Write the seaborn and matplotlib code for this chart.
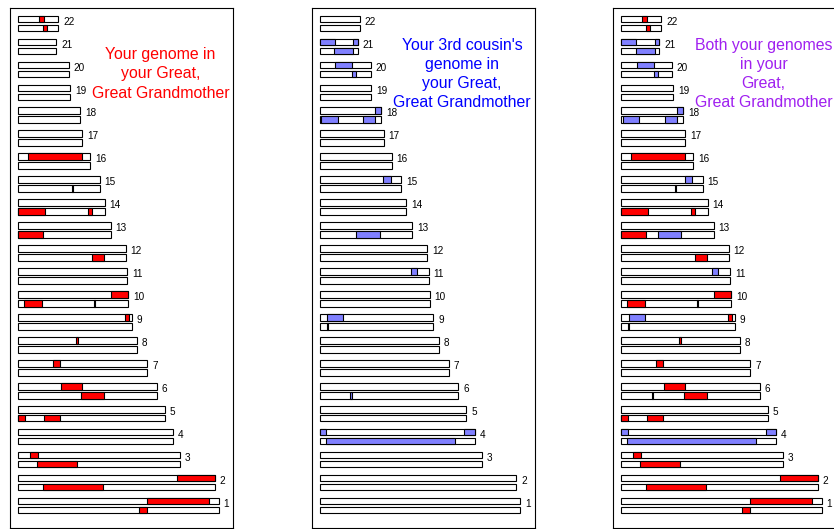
import matplotlib
matplotlib.use("Agg")
import matplotlib.pyplot as plt
import pandas as pd
import seaborn as sns

# Chromosome numbers and physical lengths (Mb)
chromosomes = list(range(1, 23))
chrom_length_mb = [249.0, 244.3, 200.9, 192.5, 182.2, 171.9, 160.2, 147.5, 140.9, 136.3,
                   135.4, 133.4, 114.8, 107.3, 101.1, 89.4, 79.5, 76.6, 64.2, 63.0, 47.2, 49.7]

# Segments of your genome that came from the great, great grandmother
# homolog 0 = upper copy, 1 = lower copy; start / end in Mb
your_chrom = [22, 22, 16, 15, 14, 14, 13, 12, 10, 10, 10, 9, 8, 7, 6, 6, 5, 5, 3, 3, 2, 2, 1, 1]
your_homolog = [0, 1, 0, 1, 1, 1, 1, 1, 0, 1, 1, 0, 0, 0, 0, 1, 1, 1, 0, 1, 0, 1, 0, 1]
your_start = [26.1, 31.1, 12.4, 67.0, 0.0, 87.0, 0.0, 92.0, 115.2, 7.5, 93.5, 132.5, 72.0,
              42.7, 53.4, 78.3, 0.0, 32.3, 14.5, 23.6, 196.7, 30.3, 159.5, 150.3]
your_end = [31.6, 36.0, 79.5, 68.5, 33.5, 92.0, 31.0, 106.0, 136.3, 29.0, 95.2, 137.5, 73.6,
            52.2, 78.8, 106.5, 7.9, 52.2, 24.1, 72.9, 244.3, 104.8, 236.9, 159.9]

# Segments of your 3rd cousin's genome from the same ancestor
cousin_chrom = [21, 21, 21, 20, 20, 18, 18, 18, 15, 13, 11, 9, 9, 6, 4, 4, 4]
cousin_homolog = [0, 0, 1, 0, 1, 0, 1, 1, 0, 1, 0, 0, 1, 1, 0, 0, 1]
cousin_start = [0.0, 41.4, 18.1, 19.4, 40.1, 69.1, 2.0, 54.2, 79.0, 45.5, 113.0, 9.1, 8.5,
                38.0, 0.0, 179.6, 7.5]
cousin_end = [18.6, 47.2, 41.4, 40.1, 45.1, 76.6, 22.4, 69.1, 88.2, 74.5, 120.5, 28.9, 9.7,
              39.5, 7.8, 192.5, 167.7]

panel_titles = ["Your genome in\nyour Great,\nGreat Grandmother",
                "Your 3rd cousin's\ngenome in\nyour Great,\nGreat Grandmother",
                "Both your genomes\nin your\nGreat,\nGreat Grandmother"]
title_colors = ["#FF0000", "#0000FF", "#A020F0"]
your_color = "#FF0000"
cousin_color = "#8080FF"

sns.set_theme(style="white")
plt.rcParams["font.family"] = ["Liberation Sans", "DejaVu Sans"]

W, H = 834, 529
fig = plt.figure(figsize=(W / 100, H / 100), dpi=100)
fig.patch.set_facecolor("white")

panel_left_px = [10, 311.5, 613]
panel_w_px = 223
top_px, bottom_px = 7.7, 527.7

order = [str(c) for c in chromosomes[::-1]]
base = pd.DataFrame({
    "chrom": [str(c) for c in chromosomes] * 2,
    "homolog": ["A"] * 22 + ["B"] * 22,
    "length": chrom_length_mb * 2,
})

DODGE = 0.196
BAR_H = 0.288


def row_of(c):
    return 22 - c


def segments(chrom, homolog, start, end, color):
    return [(c, h, s, e, color) for c, h, s, e in zip(chrom, homolog, start, end)]


mine = segments(your_chrom, your_homolog, your_start, your_end, your_color)
cousin = segments(cousin_chrom, cousin_homolog, cousin_start, cousin_end, cousin_color)
panel_segments = [mine, cousin, cousin + mine]


def draw_panel(ax, segs, title, title_color):
    sns.barplot(data=base, y="chrom", x="length", hue="homolog", order=order,
                hue_order=["A", "B"], orient="h", palette=["white", "white"],
                saturation=1, width=0.784, gap=0.265, dodge=True,
                edgecolor="black", linewidth=0.8, errorbar=None, legend=False, ax=ax)
    for chrom, hom, start, end, color in segs:
        y = row_of(chrom) + (-DODGE if hom == 0 else DODGE)
        ax.barh(y, end - start, left=start, height=BAR_H, color=color,
                edgecolor="black", linewidth=0.8)
    for c, length in zip(chromosomes, chrom_length_mb):
        ax.text(length + 6, row_of(c) - 0.08, str(c), ha="left", va="center",
                fontsize=7.2, color="black")
    ax.text(176.6, 2.2, title, color=title_color, ha="center", va="center",
            fontsize=11.4, linespacing=1.35)
    ax.set_xlim(-10.3, 266.7)
    ax.set_ylim(21.967, -0.688)
    ax.set_xticks([])
    ax.set_yticks([])
    ax.set_xlabel("")
    ax.set_ylabel("")
    for s in ax.spines.values():
        s.set_visible(True)
        s.set_color("black")
        s.set_linewidth(0.8)


for left_px, segs, title, tcolor in zip(panel_left_px, panel_segments, panel_titles, title_colors):
    ax = fig.add_axes([left_px / W, (H - bottom_px) / H, panel_w_px / W,
                       (bottom_px - top_px) / H])
    draw_panel(ax, segs, title, tcolor)

fig.savefig("out.png", dpi=100, facecolor="white")
